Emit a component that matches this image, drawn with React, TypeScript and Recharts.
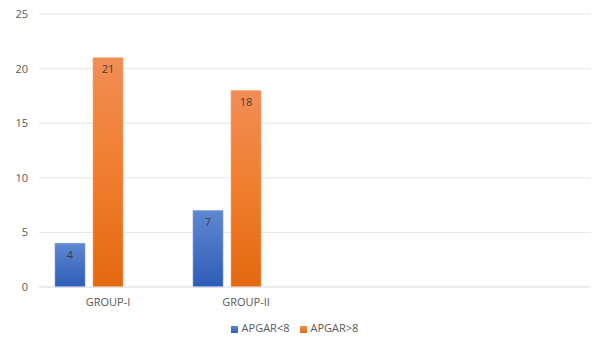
import React from "react";
import { BarChart, Bar, XAxis, YAxis, CartesianGrid, Legend, LabelList } from "recharts";

const categories = ["GROUP-I", "GROUP-II", "", ""];
const apgarBelow8 = [4, 7, null, null];
const apgarAbove8 = [21, 18, null, null];
const yTicks = [0, 5, 10, 15, 20, 25];

const data = categories.map((c, i) => ({
  name: c,
  below: apgarBelow8[i],
  above: apgarAbove8[i],
  blank: null,
}));

const FONT = "'Open Sans', 'Liberation Sans', sans-serif";

export default function App() {
  return (
    <div style={{ position: "absolute", left: 0, top: 0, width: 592, height: 340, background: "#fff" }}>
      <BarChart
        width={592}
        height={340}
        data={data}
        margin={{ top: 14, right: 1, left: 0, bottom: 10 }}
        barSize={30}
        barGap={8}
        style={{ fontFamily: FONT }}
      >
        <defs>
          <linearGradient id="gBlue" x1="0" y1="0" x2="0" y2="1">
            <stop offset="0%" stopColor="#5f87d2" />
            <stop offset="100%" stopColor="#2e5db7" />
          </linearGradient>
          <linearGradient id="gOrange" x1="0" y1="0" x2="0" y2="1">
            <stop offset="0%" stopColor="#f18d55" />
            <stop offset="50%" stopColor="#f07e2e" />
            <stop offset="100%" stopColor="#e3690f" />
          </linearGradient>
        </defs>
        <CartesianGrid vertical={false} stroke="#e3e6ea" strokeWidth={1} />
        <XAxis
          dataKey="name"
          axisLine={{ stroke: "#e3e6ea" }}
          tickLine={false}
          tick={{ fill: "#595959", fontSize: 11, fontFamily: FONT }}
          tickMargin={5}
          height={28}
        />
        <YAxis
          domain={[0, 25]}
          ticks={yTicks}
          axisLine={false}
          tickLine={false}
          tickSize={0}
          tickMargin={11}
          width={39}
          tick={{ fill: "#595959", fontSize: 11, fontFamily: FONT }}
        />
        <Legend
          verticalAlign="bottom"
          align="center"
          iconType="square"
          iconSize={7}
          wrapperStyle={{ fontSize: 11, fontFamily: FONT, color: "#595959", paddingLeft: 4, bottom: 5 }}
          formatter={(v) => <span style={{ color: "#595959" }}>{v}</span>}
        />
        <Bar dataKey="below" name="APGAR<8" fill="url(#gBlue)" stroke="#7d9ddb" strokeWidth={0.6} isAnimationActive={false} legendType="square">
          <LabelList dataKey="below" position="insideTop" offset={8} fill="#404040" fontSize={11} fontFamily={FONT} />
        </Bar>
        <Bar dataKey="above" name="APGAR>8" fill="url(#gOrange)" stroke="#f5a678" strokeWidth={0.6} isAnimationActive={false} legendType="square">
          <LabelList dataKey="above" position="insideTop" offset={8} fill="#404040" fontSize={11} fontFamily={FONT} />
        </Bar>
        <Bar dataKey="blank" name="blank" fill="none" isAnimationActive={false} legendType="none" />
      </BarChart>
    </div>
  );
}
